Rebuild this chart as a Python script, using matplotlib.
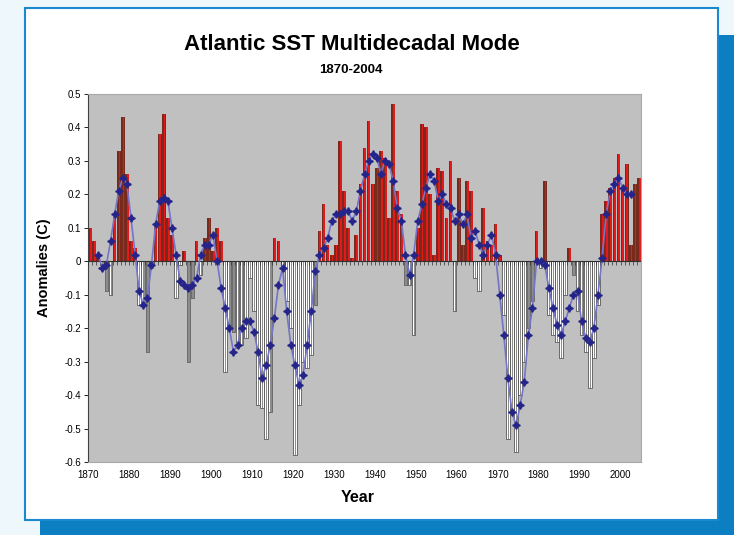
import numpy as np
import matplotlib.pyplot as plt
from matplotlib.patches import Rectangle

plt.rcParams['font.family'] = ['Liberation Sans', 'DejaVu Sans']

# yearly anomalies 1870-2004
years = np.arange(1870, 2005)
anomaly = np.array([
    0.10, 0.06, 0.02, -0.01, -0.09, -0.10, 0.14, 0.33, 0.43, 0.26,
    0.06, 0.04, -0.13, -0.13, -0.27, -0.02, 0.11, 0.38, 0.44, 0.13,
    0.08, -0.11, -0.01, 0.03, -0.30, -0.11, 0.06, -0.04, 0.07, 0.13,
    0.03, 0.10, 0.06, -0.33, -0.20, -0.21, -0.26, -0.25, -0.23, -0.05,
    -0.15, -0.43, -0.44, -0.53, -0.45, 0.07, 0.06, -0.03, -0.12, -0.20,
    -0.58, -0.43, -0.30, -0.32, -0.28, -0.13, 0.09, 0.17, 0.05, 0.02,
    0.05, 0.36, 0.21, 0.10, 0.01, 0.08, 0.23, 0.34, 0.42, 0.23,
    0.28, 0.33, 0.31, 0.13, 0.47, 0.21, 0.14, -0.07, -0.07, -0.22,
    0.10, 0.41, 0.40, 0.20, 0.02, 0.28, 0.27, 0.13, 0.30, -0.15,
    0.25, 0.05, 0.24, 0.21, -0.05, -0.09, 0.16, 0.06, 0.05, 0.11,
    0.02, -0.16, -0.53, -0.45, -0.57, -0.40, -0.30, -0.20, -0.12, 0.09,
    -0.02, 0.24, -0.16, -0.22, -0.24, -0.29, -0.10, 0.04, -0.04, -0.15,
    -0.22, -0.27, -0.38, -0.29, -0.13, 0.14, 0.18, 0.22, 0.25, 0.32,
    0.22, 0.29, 0.05, 0.23, 0.25])

# smoothed curve 1872-2002
smooth_years = np.arange(1872, 2003)
smooth = np.array([
    0.02, -0.02, -0.01, 0.06, 0.14, 0.21, 0.25, 0.23, 0.13, 0.02,
    -0.09, -0.13, -0.11, -0.01, 0.11, 0.18, 0.19, 0.18, 0.10, 0.02,
    -0.06, -0.07, -0.08, -0.07, -0.05, 0.02, 0.05, 0.05, 0.08, 0.00,
    -0.08, -0.14, -0.20, -0.27, -0.25, -0.20, -0.18, -0.18, -0.21, -0.27,
    -0.35, -0.31, -0.25, -0.17, -0.07, -0.02, -0.15, -0.25, -0.31, -0.37,
    -0.34, -0.25, -0.15, -0.03, 0.02, 0.04, 0.07, 0.12, 0.14, 0.14,
    0.15, 0.15, 0.12, 0.15, 0.21, 0.26, 0.30, 0.32, 0.31, 0.26,
    0.30, 0.29, 0.24, 0.16, 0.12, 0.02, -0.04, 0.02, 0.12, 0.17,
    0.22, 0.26, 0.24, 0.18, 0.20, 0.17, 0.16, 0.12, 0.14, 0.11,
    0.14, 0.07, 0.09, 0.05, 0.02, 0.05, 0.08, 0.02, -0.10, -0.22,
    -0.35, -0.45, -0.49, -0.43, -0.36, -0.22, -0.14, 0.00, 0.00, -0.01,
    -0.08, -0.14, -0.19, -0.22, -0.18, -0.14, -0.10, -0.09, -0.18, -0.23,
    -0.24, -0.20, -0.10, 0.01, 0.14, 0.21, 0.23, 0.25, 0.22, 0.20,
    0.20])

yticks = np.round(np.arange(-0.6, 0.51, 0.1), 1)
ytick_labels = ['-0.6', '-0.5', '-0.4', '-0.3', '-0.2', '-0.1', '0',
                '0.1', '0.2', '0.3', '0.4', '0.5']
xticks = np.arange(1870, 2001, 10)

W, H = 734, 535
fig = plt.figure(figsize=(W / 100, H / 100), dpi=100)
fig.patch.set_facecolor('#eef7fb')

# blue drop shadow + white framed panel (behind the axes)
fig.patches.append(Rectangle((40 / W, 0), 1 - 40 / W, 1 - 35 / H,
                             transform=fig.transFigure, facecolor='#0b7fc2',
                             edgecolor='none', zorder=-2))
fig.patches.append(Rectangle((25 / W, 1 - 520 / H), 693 / W, 512 / H,
                             transform=fig.transFigure, facecolor='white',
                             edgecolor='#1a8ad0', lw=1.5, zorder=-1))

ax = fig.add_axes([88 / W, 1 - 462 / H, 553 / W, 368 / H])
ax.set_zorder(5)
ax.set_facecolor('#c0c0c0')

pos = anomaly > 0
neg = ~pos
# positive bars: dark red with a bright red stripe
ax.bar(years[pos] + 0.05, anomaly[pos], width=0.9, align='edge',
       color='#7a2a1c', edgecolor='none', zorder=2)
ax.bar(years[pos] + 0.45, anomaly[pos], width=0.45, align='edge',
       color='#e31a1c', edgecolor='none', zorder=2)
# negative bars: white with grey shading and dark outline
ax.bar(years[neg] + 0.05, anomaly[neg], width=0.9, align='edge',
       color='white', edgecolor='#3c3c3c', lw=0.5, zorder=2)
ax.bar(years[neg] + 0.5, anomaly[neg], width=0.3, align='edge',
       color='#8c8c8c', edgecolor='none', zorder=2)

# zero line with yearly tick marks
ax.axhline(0, color='#303030', lw=0.8, zorder=3)
ax.vlines(years, -0.012, 0, color='#303030', lw=0.5, zorder=3)

ax.plot(smooth_years + 0.5, smooth, color='#7474c8', lw=1.2,
        marker=(4, 1, 0), ms=5.5, mfc='#24248a', mec='#24248a', zorder=4)

ax.set_xlim(1870, 2005)
ax.set_ylim(-0.6, 0.5)
ax.set_yticks(yticks)
ax.set_yticklabels(ytick_labels)
ax.set_xticks(xticks)
ax.set_xticklabels([str(x) for x in xticks])
ax.tick_params(axis='y', labelsize=7, length=3, width=0.6, pad=2)
ax.tick_params(axis='x', labelsize=7, length=0, pad=6)
ax.spines['left'].set_color('#404040')
for s in ['top', 'right', 'bottom']:
    ax.spines[s].set_color('#a8a8a8')

fig.text(352 / W, 1 - 44 / H, 'Atlantic SST Multidecadal Mode',
         ha='center', va='center', fontsize=16, fontweight='bold')
fig.text(351 / W, 1 - 70 / H, '1870-2004', ha='center', va='center',
         fontsize=9.5, fontweight='bold')
fig.text(44 / W, 1 - 268 / H, 'Anomalies (C)', rotation=90, ha='center',
         va='center', fontsize=10.5, fontweight='bold')
fig.text(358 / W, 1 - 497 / H, 'Year', ha='center', va='center',
         fontsize=11.5, fontweight='bold')

fig.savefig('out.png', dpi=100)
